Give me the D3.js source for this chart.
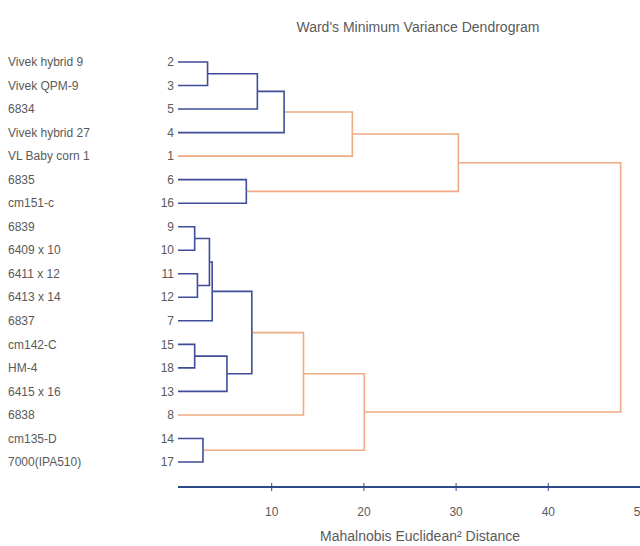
<!DOCTYPE html>
<html lang="en">
    <head>
        <meta charset="utf-8">
        <title>Ward's Minimum Variance Dendrogram</title>
        <script type="text/javascript" src="https://d3js.org/d3.v7.min.js"></script>
        <style type="text/css">
          body {
            margin: 0;
            background: #fff;
          }
          svg {
            display: block;
            font-family: 'Liberation Sans Narrow', 'Liberation Sans', sans-serif;
          }
          .lbl {
            font-size: 12px;
            fill: #5a5a5a;
          }
          .big {
            font-size: 14px;
            fill: #5a5a5a;
          }
        </style>
    </head>
    <body>
        <script type="text/javascript">

        // leaf order top to bottom, with their ids and names
        const leafOrder = [2, 3, 5, 4, 1, 6, 16, 9, 10, 11, 12, 7, 15, 18, 13, 8, 14, 17];
        const leafNames = ["Vivek hybrid 9", "Vivek QPM-9", "6834", "Vivek hybrid 27", "VL Baby corn 1",
                           "6835", "cm151-c", "6839", "6409 x  10", "6411 x 12", "6413 x 14", "6837",
                           "cm142-C", "HM-4", "6415 x 16", "6838", "cm135-D", "7000(IPA510)"];

        // merges: [left, right, distance]; numbers = leaf ids, "mN" = earlier merge
        const mergeLeft  = [2, "m0", "m1", "m2", 6, "m3", 9, 11, "m6", "m8", 15, "m10", "m9", "m12", 14, "m13", "m5"];
        const mergeRight = [3, 5, 4, 1, 16, "m4", 10, 12, "m7", 7, 18, 13, "m11", 8, 17, "m14", "m15"];
        const mergeDist  = [3.1, 8.5, 11.4, 18.8, 7.3, 30.3, 1.7, 2.0, 3.3, 3.6, 1.7, 5.2, 7.9, 13.5, 2.6, 20.1, 47.9];

        const tickVals = [10, 20, 30, 40, 50];
        const cutoff = 12;

        const w = 640;
        const h = 546;
        const blue = "#3e4c98";
        const orange = "#f0aa84";

        const svg = d3.select("body").append("svg")
                      .attr("width", w)
                      .attr("height", h);

        const x = d3.scaleLinear().domain([0, 50]).range([179, 640]);
        const y = d3.scalePoint().domain(leafOrder).range([62, 462]);

        // build nested tree from merge table
        const nodes = {};
        leafOrder.forEach(id => { nodes[id] = {name: id, height: 0}; });
        mergeDist.forEach((d, i) => {
            nodes["m" + i] = {name: "m" + i, height: d,
                              children: [nodes[mergeLeft[i]], nodes[mergeRight[i]]]};
        });
        const root = d3.hierarchy(nodes["m" + (mergeDist.length - 1)]);

        // y position: leaves from scale, internal = midpoint of children
        root.eachAfter(n => {
            n.py = n.children ? d3.mean(n.children, c => c.py) : y(n.data.name);
            n.px = x(n.data.height);
        });

        const links = svg.append("g").attr("fill", "none").attr("stroke-width", 1.6);

        root.descendants().filter(n => n.children).forEach(n => {
            const col = n.data.height < cutoff ? blue : orange;
            n.children.forEach(c => {
                links.append("path")
                     .attr("stroke", col)
                     .attr("d", `M${c.px - (c.children ? 0 : 1)},${c.py}H${n.px}V${n.py}`);
            });
        });

        // leaf ids and names
        svg.selectAll(".num")
           .data(leafOrder)
           .join("text")
           .attr("class", "lbl")
           .attr("x", 174)
           .attr("y", d => y(d))
           .attr("dy", "0.35em")
           .attr("text-anchor", "end")
           .text(d => d);

        svg.selectAll(".name")
           .data(leafNames)
           .join("text")
           .attr("class", "lbl")
           .attr("x", 8)
           .attr("y", (d, i) => y(leafOrder[i]))
           .attr("dy", "0.35em")
           .text(d => d);

        // axis
        const axis = svg.append("g")
                        .attr("transform", "translate(0,487)")
                        .call(d3.axisBottom(x).tickValues(tickVals).tickSize(4).tickPadding(16));
        axis.select(".domain").attr("stroke", "#2c4a86").attr("stroke-width", 2)
            .attr("d", "M178,0H640");
        axis.selectAll(".tick line").attr("stroke", "#2c4a86").attr("y1", -4).attr("y2", 4);
        axis.selectAll(".tick text").attr("class", "lbl").attr("font-size", null);

        svg.append("text")
           .attr("class", "big")
           .attr("x", 420)
           .attr("y", 541)
           .attr("text-anchor", "middle")
           .text("Mahalnobis Euclidean\u00b2 Distance");

        svg.append("text")
           .attr("class", "big")
           .attr("x", 418)
           .attr("y", 32)
           .attr("text-anchor", "middle")
           .text("Ward's Minimum Variance Dendrogram");

        </script>
    </body>
</html>
